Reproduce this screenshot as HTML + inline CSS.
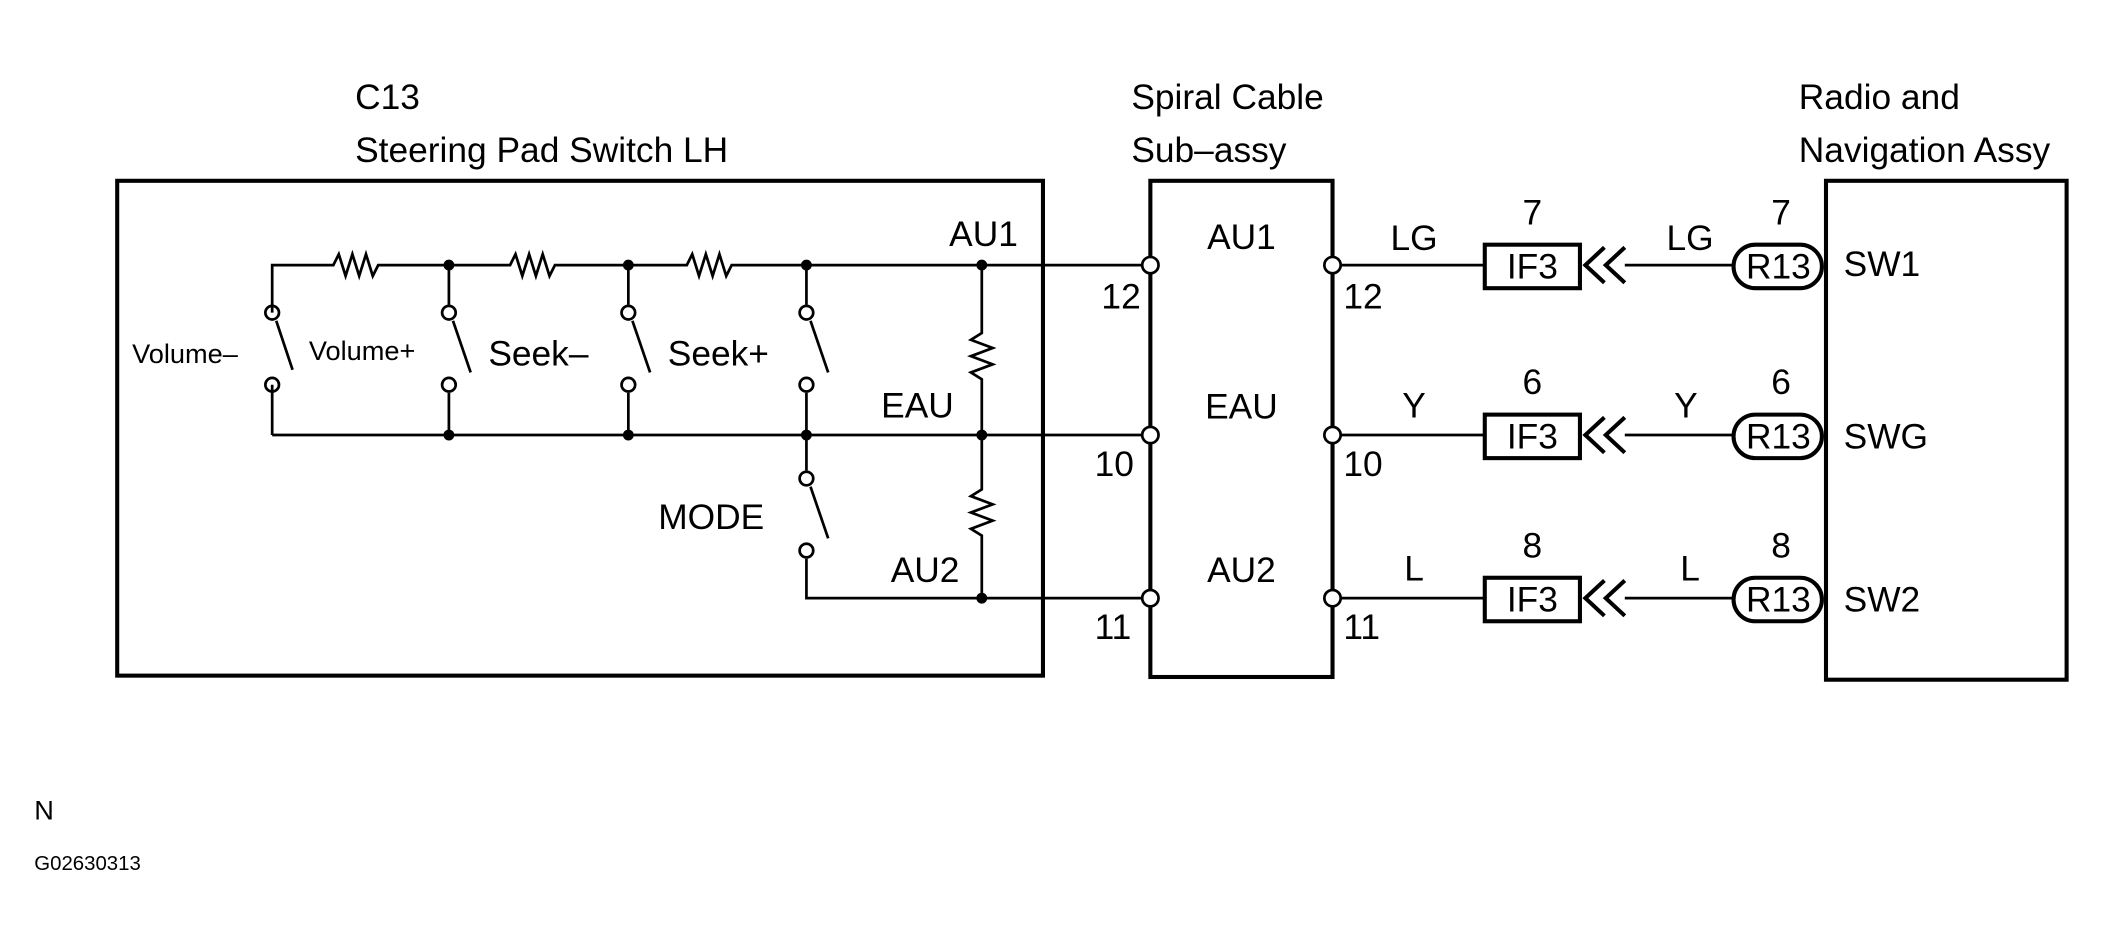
<!DOCTYPE html>
<html><head><style>html,body{margin:0;padding:0;background:#fff}svg{display:block}</style></head><body>
<svg width="2124" height="938" viewBox="0 0 1562 690" xmlns="http://www.w3.org/2000/svg" font-family="Liberation Sans, sans-serif">
<g fill="none" stroke="#000" stroke-width="2">
<rect x="86" y="133" width="681" height="364" stroke-width="3"/>
<rect x="846" y="133" width="134" height="365" stroke-width="3"/>
<rect x="1343" y="133" width="177" height="367" stroke-width="3"/>
<!-- top wire with resistors -->
<path d="M200 230V195H245l4 -8 5 16 5 -16 5 16 5 -16 5 16 4 -8H375l4 -8 5 16 5 -16 5 16 5 -16 5 16 4 -8H505l4 -8 5 16 5 -16 5 16 5 -16 5 16 4 -8H840"/>
<path d="M200 320V283 M200 320H840"/>
<path d="M330 195V224 M330 289V320 M462 195V224 M462 289V320 M593 195V224 M593 289V346 M593 411V440H840"/>
<path d="M722 195V245l-8 5 16 6 -16 6 16 6 -16 6 8 5V360l-8 5 16 6 -16 6 16 6 -16 6 8 5V440"/>
<!-- switches -->
<circle cx="200" cy="230" r="5"/><circle cx="200" cy="283" r="5"/><path d="M203 236L215 272"/>
<circle cx="330" cy="230" r="5"/><circle cx="330" cy="283" r="5"/><path d="M333 236L346 274"/>
<circle cx="462" cy="230" r="5"/><circle cx="462" cy="283" r="5"/><path d="M465 236L478 274"/>
<circle cx="593" cy="230" r="5"/><circle cx="593" cy="283" r="5"/><path d="M596 236L609 274"/>
<circle cx="593" cy="352" r="5"/><circle cx="593" cy="405" r="5"/><path d="M596 358L609 396"/>
<!-- right wires -->
<path d="M986 195H1092 M986 320H1092 M986 440H1092"/>
<path d="M1195 195H1275 M1195 320H1275 M1195 440H1275"/>
<g stroke-width="3">
<rect x="1092" y="180" width="70" height="32"/><rect x="1092" y="305" width="70" height="32"/><rect x="1092" y="425" width="70" height="32"/>
<rect x="1275" y="180" width="65" height="32" rx="16"/><rect x="1275" y="305" width="65" height="32" rx="16"/><rect x="1275" y="425" width="65" height="32" rx="16"/>
<path d="M1180 182L1166 195 1180 208 M1195 182L1181 195 1195 208"/>
<path d="M1180 307L1166 320 1180 333 M1195 307L1181 320 1195 333"/>
<path d="M1180 427L1166 440 1180 453 M1195 427L1181 440 1195 453"/>
</g>
<g fill="#fff">
<circle cx="846" cy="195" r="6"/><circle cx="846" cy="320" r="6"/><circle cx="846" cy="440" r="6"/>
<circle cx="980" cy="195" r="6"/><circle cx="980" cy="320" r="6"/><circle cx="980" cy="440" r="6"/>
</g>
</g>
<g fill="#000">
<circle cx="330" cy="195" r="4"/><circle cx="462" cy="195" r="4"/><circle cx="593" cy="195" r="4"/><circle cx="722" cy="195" r="4"/>
<circle cx="330" cy="320" r="4"/><circle cx="462" cy="320" r="4"/><circle cx="593" cy="320" r="4"/><circle cx="722" cy="320" r="4"/>
<circle cx="722" cy="440" r="4"/>
</g>
<g font-size="26">
<text x="261" y="80">C13</text><text x="261" y="119">Steering Pad Switch LH</text>
<text x="832" y="80">Spiral Cable</text><text x="832" y="119">Sub–assy</text>
<text x="1323" y="80">Radio and</text><text x="1323" y="119">Navigation Assy</text>
<text x="359" y="269">Seek–</text><text x="491" y="269">Seek+</text>
<text x="484" y="389">MODE</text>
<text x="698" y="181">AU1</text><text x="648" y="307">EAU</text><text x="655" y="428">AU2</text>
<text x="913" y="183" text-anchor="middle">AU1</text><text x="913" y="308" text-anchor="middle">EAU</text><text x="913" y="428" text-anchor="middle">AU2</text>
<text x="810" y="227">12</text><text x="988" y="227">12</text>
<text x="805" y="350">10</text><text x="988" y="350">10</text>
<text x="805" y="470">11</text><text x="988" y="470">11</text>
<text x="1040" y="184" text-anchor="middle">LG</text><text x="1040" y="307" text-anchor="middle">Y</text><text x="1040" y="427" text-anchor="middle">L</text>
<text x="1243" y="184" text-anchor="middle">LG</text><text x="1240" y="307" text-anchor="middle">Y</text><text x="1243" y="427" text-anchor="middle">L</text>
<text x="1127" y="165" text-anchor="middle">7</text><text x="1127" y="290" text-anchor="middle">6</text><text x="1127" y="410" text-anchor="middle">8</text>
<text x="1310" y="165" text-anchor="middle">7</text><text x="1310" y="290" text-anchor="middle">6</text><text x="1310" y="410" text-anchor="middle">8</text>
<text x="1127" y="205" text-anchor="middle">IF3</text><text x="1127" y="330" text-anchor="middle">IF3</text><text x="1127" y="450" text-anchor="middle">IF3</text>
<text x="1308" y="205" text-anchor="middle">R13</text><text x="1308" y="330" text-anchor="middle">R13</text><text x="1308" y="450" text-anchor="middle">R13</text>
<text x="1356" y="203">SW1</text><text x="1356" y="330">SWG</text><text x="1356" y="450">SW2</text>
</g>
<g font-size="20"><text x="97" y="267">Volume–</text><text x="227" y="265">Volume+</text><text x="25" y="603">N</text></g>
<text x="25" y="640" font-size="15">G02630313</text>
</svg>
</body></html>
